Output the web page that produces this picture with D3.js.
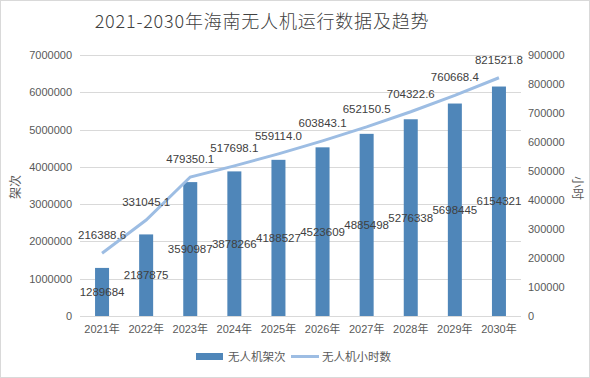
<!DOCTYPE html>
<html><head><meta charset="utf-8">
<script src="https://cdn.jsdelivr.net/npm/d3@7"></script>
<style>body{margin:0;background:#fff}svg{display:block}</style>
</head><body>
<script>
const categories = ["2021年","2022年","2023年","2024年","2025年","2026年","2027年","2028年","2029年","2030年"];
const flights = [1289684,2187875,3590987,3878266,4188527,4523609,4885498,5276338,5698445,6154321];
const hours = [216388.6,331045.1,479350.1,517698.1,559114.0,603843.1,652150.5,704322.6,760668.4,821521.8];
const leftTicks = [0,1000000,2000000,3000000,4000000,5000000,6000000,7000000];
const rightTicks = [0,100000,200000,300000,400000,500000,600000,700000,800000,900000];
const hourLabels = ["216388.6","331045.1","479350.1","517698.1","559114.0","603843.1","652150.5","704322.6","760668.4","821521.8"];

const W=590,H=378;
const font = "'Liberation Sans', Arial, 'Noto Sans CJK SC', sans-serif";
const svg=d3.select("body").append("svg").attr("width",W).attr("height",H);
svg.append("rect").attr("x",0.5).attr("y",0.5).attr("width",W-1).attr("height",H-1)
  .attr("fill","#fff").attr("stroke","#d9d9d9");

const L=80,R=521,T=55,B=316;
const x=d3.scaleBand().domain(categories).range([L,R]);
const yL=d3.scaleLinear().domain([0,7000000]).range([B,T]);
const yR=d3.scaleLinear().domain([0,900000]).range([B,T]);

// grid
svg.append("g").selectAll("line").data(leftTicks).join("line")
  .attr("x1",L).attr("x2",R).attr("y1",d=>Math.round(yL(d))+0.5).attr("y2",d=>Math.round(yL(d))+0.5)
  .attr("stroke","#d9d9d9").attr("stroke-width",1);

// left axis
const gl=svg.append("g").attr("transform",`translate(${L},0)`)
  .call(d3.axisLeft(yL).tickValues(leftTicks).tickSize(0).tickPadding(8).tickFormat(d=>String(d)));
gl.select(".domain").remove();
gl.selectAll("text").attr("font-family",font).attr("font-size",11).attr("fill","#595959");

// right axis
const gr=svg.append("g").attr("transform",`translate(${R},0)`)
  .call(d3.axisRight(yR).tickValues(rightTicks).tickSize(0).tickPadding(7).tickFormat(d=>String(d)));
gr.select(".domain").remove();
gr.selectAll("text").attr("font-family",font).attr("font-size",11).attr("fill","#595959");

// x axis
const gx=svg.append("g").attr("transform",`translate(0,${B})`)
  .call(d3.axisBottom(x).tickSize(0).tickPadding(9));
gx.select(".domain").remove();
gx.selectAll("text").attr("font-family",font).attr("font-size",11).attr("fill","#595959");

// bars
const bw=14;
svg.append("g").selectAll("rect").data(flights).join("rect")
  .attr("x",(d,i)=>x(categories[i])+x.bandwidth()/2-bw/2)
  .attr("width",bw)
  .attr("y",d=>yL(d)).attr("height",d=>B-yL(d))
  .attr("fill","#4f86b9");

// line
const line=d3.line().x((d,i)=>x(categories[i])+x.bandwidth()/2).y(d=>yR(d));
svg.append("path").datum(hours).attr("d",line).attr("fill","none")
  .attr("stroke","#9dbde3").attr("stroke-width",3);

// bar labels
svg.append("g").selectAll("text").data(flights).join("text")
  .attr("x",(d,i)=>x(categories[i])+x.bandwidth()/2)
  .attr("y",d=>(yL(d)+B)/2).attr("dy","0.35em")
  .attr("text-anchor","middle").attr("font-family",font).attr("font-size",11.5).attr("fill","#404040")
  .text(d=>String(d));

// line labels
svg.append("g").selectAll("text").data(hours).join("text")
  .attr("x",(d,i)=>x(categories[i])+x.bandwidth()/2)
  .attr("y",d=>yR(d)-18).attr("dy","0.35em")
  .attr("text-anchor","middle").attr("font-family",font).attr("font-size",11.5).attr("fill","#404040")
  .text((d,i)=>hourLabels[i]);

// title
svg.append("text").attr("x",262).attr("y",28).attr("text-anchor","middle")
  .attr("font-family","'Noto Sans CJK SC', sans-serif").attr("font-size",18).attr("font-weight",300)
  .attr("letter-spacing",0.8).attr("fill","#404040")
  .text("2021-2030年海南无人机运行数据及趋势");

// axis titles
svg.append("text").attr("transform","translate(20,187) rotate(-90)").attr("text-anchor","middle")
  .attr("font-family","'Noto Sans CJK SC', sans-serif").attr("font-size",12).attr("fill","#595959").text("架次");
svg.append("text").attr("transform","translate(573,188) rotate(90)").attr("text-anchor","middle")
  .attr("font-family","'Noto Sans CJK SC', sans-serif").attr("font-size",12).attr("fill","#595959").text("小时");

// legend
const lg=svg.append("g");
lg.append("rect").attr("x",196).attr("y",353).attr("width",27).attr("height",7).attr("fill","#4f86b9");
lg.append("text").attr("x",228).attr("y",357).attr("dy","0.35em").attr("font-family","'Noto Sans CJK SC', sans-serif")
  .attr("font-size",11.5).attr("fill","#595959").text("无人机架次");
lg.append("line").attr("x1",291).attr("x2",319).attr("y1",356.5).attr("y2",356.5).attr("stroke","#9dbde3").attr("stroke-width",3);
lg.append("text").attr("x",322).attr("y",357).attr("dy","0.35em").attr("font-family","'Noto Sans CJK SC', sans-serif")
  .attr("font-size",11.5).attr("fill","#595959").text("无人机小时数");
</script>
</body></html>
